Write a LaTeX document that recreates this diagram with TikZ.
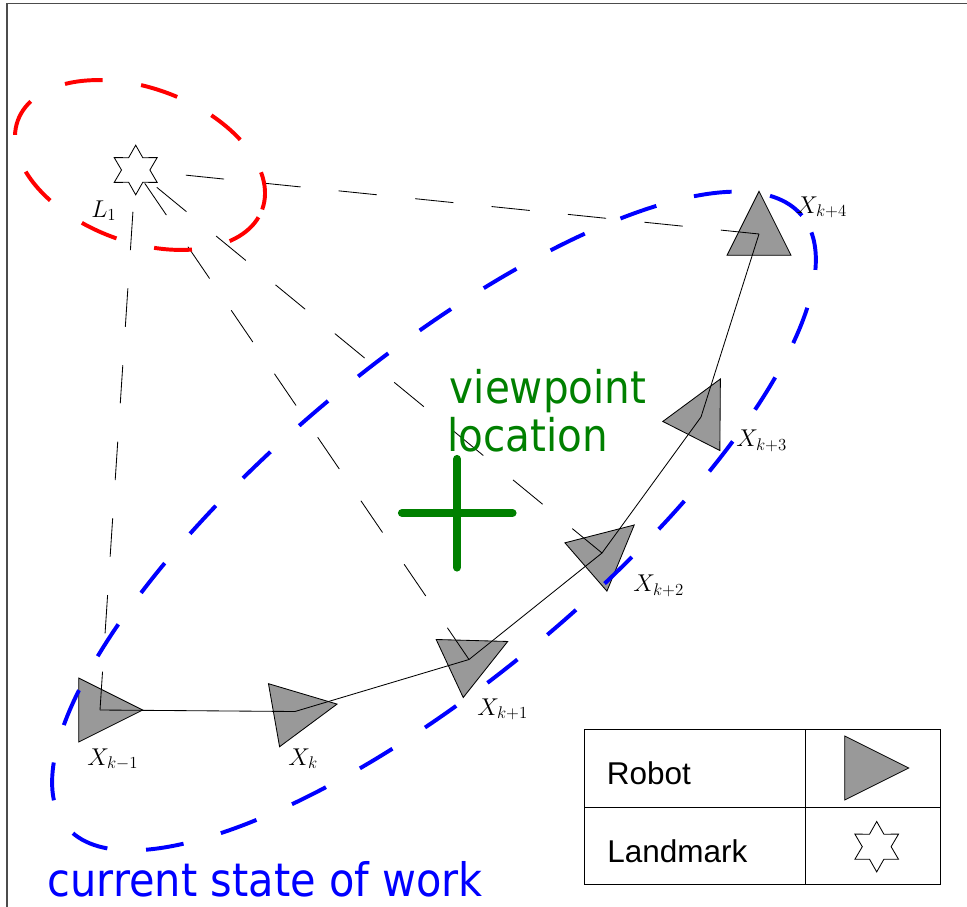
\documentclass[tikz,border=0pt]{standalone}
\usepackage{fontspec}
\usepackage{tikz}
\usepackage{xcolor}
\usetikzlibrary{calc,shapes.geometric}
\newfontfamily\notefont[FakeStretch=0.9]{DejaVu Sans}
\newfontfamily\legendfont{Liberation Sans}
\definecolor{robotgray}{RGB}{153,153,153}
\definecolor{viewgreen}{RGB}{0,128,0}
\newcommand{\robotshape}[2]{%
  \filldraw[robot,shift={(#1)},rotate=#2] (42.7,0) -- (-21.3,32) -- (-21.3,-32) -- cycle;}

\begin{document}
\begin{tikzpicture}[x=0.025cm,y=-0.025cm,
  robot/.style={fill=robotgray,draw=black,line width=0.6pt},
  landmark/.style={star,star points=6,star point ratio=1.75,draw,fill=white,minimum size=1.24cm,inner sep=0pt,line width=0.6pt},
  sight/.style={line width=0.6pt,dash pattern=on 9.6mm off 9.6mm},
  track/.style={line width=0.6pt},
  region/.style={line width=2.8pt,dash pattern=on 9.5mm off 9.7mm},
  viewcross/.style={line width=5.8pt,line cap=round,viewgreen},
  poselabel/.style={anchor=base west,inner sep=0pt,font=\fontsize{17.28}{20}\selectfont},
  note/.style={anchor=base west,inner sep=0pt,text depth=0pt,font=\notefont\fontsize{32}{38}\selectfont},
  keytext/.style={anchor=base west,inner sep=0pt,font=\legendfont\fontsize{22.4}{26}\selectfont}]
\useasboundingbox (0,0) rectangle (967,907);
% frame
\draw[line width=1.2pt,black!70] (7,907) -- (7,3.5) -- (967,3.5);

% poses and landmark
\coordinate (xkm1) at (100,710);
\coordinate (xk) at (295,711.5);
\coordinate (xkp1) at (469,659.5);
\coordinate (xkp2) at (602,553);
\coordinate (xkp3) at (701,417);
\coordinate (xkp4) at (759,234);
\node[landmark] (L1) at (135.7,170) {};

\robotshape{xkm1}{0}
\robotshape{xk}{10}
\robotshape{xkp1}{25}
\robotshape{xkp2}{41}
\robotshape{xkp3}{63}
\robotshape{xkp4}{90}

% observations
\draw[sight] (xkm1) -- (L1);
\draw[sight] (xkp1) -- (L1);
\draw[sight] (xkp2) -- (L1);
\draw[sight] (xkp4) -- (L1);
\draw[track] (xkm1) -- (xk) -- (xkp1) -- (xkp2) -- (xkp3) -- (xkp4);

% uncertainty regions
\coordinate (redc) at (140,165);
\coordinate (bluec) at (434,521);
\draw[region,red,rotate around={-20:(redc)}] (redc) ellipse [x radius=3.25cm, y radius=1.925cm];
\draw[region,blue,rotate around={39.7:(bluec)}] (bluec) ellipse [x radius=11.95cm, y radius=4cm];

% viewpoint
\coordinate (vp) at (457,513);
\draw[viewcross] (402,513) -- (512.5,513);
\draw[viewcross] (457,459) -- (457,567.5);

\node[poselabel] (lblL1) at (91,217) {$L_1$};
\node[poselabel] (lblkm1) at (87,765) {$X_{k-1}$};
\node[poselabel] (lblk) at (288,765) {$X_{k}$};
\node[poselabel] (lblkp1) at (477,715) {$X_{k+1}$};
\node[poselabel] (lblkp2) at (633,591.7) {$X_{k+2}$};
\node[poselabel] (lblkp3) at (736,446.7) {$X_{k+3}$};
\node[poselabel] (lblkp4) at (796,213.3) {$X_{k+4}$};

\node[note,text=viewgreen] (viewtext) at (449.5,403.3) {viewpoint};
\node[note,text=viewgreen] (loctext) at (447,451.7) {location};
\node[note,text=blue,font=\notefont\fontsize{32.8}{38}\selectfont] (worktext) at (47.5,896) {current state of work};

% legend
\draw[line width=0.6pt] (584,729) rectangle (940.7,884.3);
\draw[line width=0.6pt] (584,807.3) -- (940.7,807.3);
\draw[line width=0.6pt] (805,729) -- (805,884.3);
\node[keytext] (robottext) at (606.5,784) {Robot};
\node[keytext] (landmarktext) at (607,862.7) {Landmark};
\coordinate (keyrobot) at (866,768);
\robotshape{keyrobot}{0}
\node[landmark,minimum size=1.26cm] (keystar) at (876.7,846.7) {};
\end{tikzpicture}
\end{document}
